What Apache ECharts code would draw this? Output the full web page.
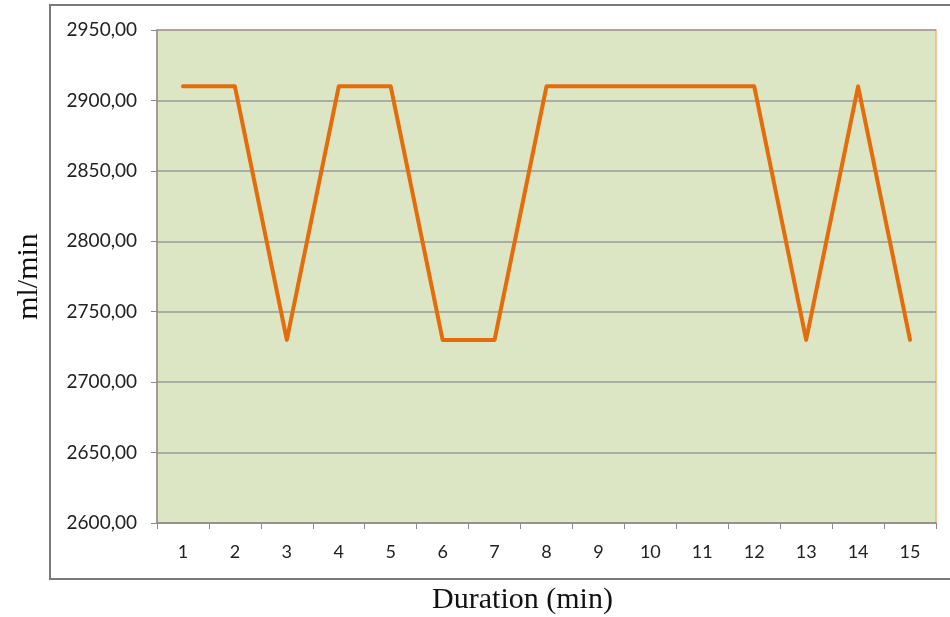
<!DOCTYPE html>
<html><head><meta charset="utf-8">
<script src="https://cdn.jsdelivr.net/npm/echarts@6/dist/echarts.min.js"></script>
<style>html,body{margin:0;padding:0;background:#fff}#c{width:950px;height:617px}</style>
</head><body><div id="c"></div>
<script>
const categories = ['1','2','3','4','5','6','7','8','9','10','11','12','13','14','15'];
const flowValues = [2910,2910,2730,2910,2910,2730,2730,2910,2910,2910,2910,2910,2730,2910,2730];
const yMin = 2600, yMax = 2950, yStep = 50;

const chart = echarts.init(document.getElementById('c'), null, {renderer:'canvas'});
chart.setOption({
  animation:false,
  graphic:[{type:'rect', shape:{x:50,y:5,width:910,height:574}, style:{fill:'none', stroke:'#7a7a7a', lineWidth:2}, z:-1}],
  grid:{left:157,right:14,top:30,bottom:94,outerBoundsMode:'none',containLabel:false,show:true,backgroundColor:'#dce6c5',borderColor:'#f7b27a',borderWidth:1.5},
  xAxis:{type:'category',data:categories,boundaryGap:true,
    name:'Duration (min)',nameLocation:'middle',nameGap:62,
    nameTextStyle:{fontFamily:'Liberation Serif',fontSize:30,color:'#111',padding:[0,48,0,0]},
    axisLine:{lineStyle:{color:'#8c8c8c',width:1.5}},
    axisTick:{show:true,alignWithLabel:false,length:6,lineStyle:{color:'#8c8c8c'}},
    axisLabel:{fontFamily:'Lato',fontSize:18,color:'#222',margin:20},
    splitLine:{show:false}},
  yAxis:{type:'value',min:yMin,max:yMax,interval:yStep,
    name:'ml/min',nameLocation:'middle',nameGap:113,nameRotate:90,
    nameTextStyle:{fontFamily:'Liberation Serif',fontSize:30,color:'#111'},
    axisLine:{show:true,lineStyle:{color:'#8c8c8c',width:1.5}},
    axisTick:{show:true,length:6,lineStyle:{color:'#8c8c8c'}},
    axisLabel:{fontFamily:'Lato',fontSize:19,color:'#222',margin:20,
      formatter:v=>v.toFixed(2).replace('.',',')},
    splitLine:{lineStyle:{color:'#9a9a9a',width:1.5}}},
  series:[{type:'line',data:flowValues,symbol:'none',
    lineStyle:{color:'#e56c0a',width:4,join:'round',cap:'round'}}]
});
</script></body></html>
